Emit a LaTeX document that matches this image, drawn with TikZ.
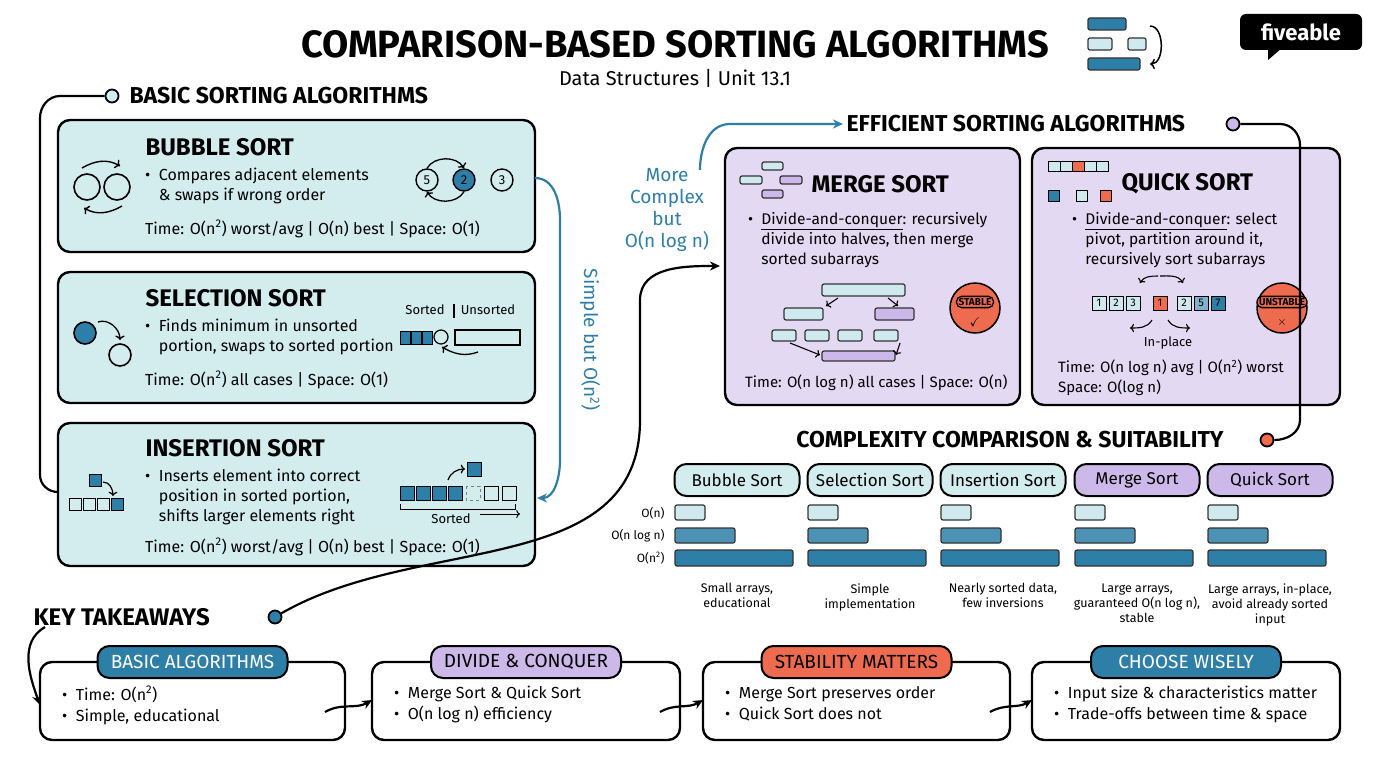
\documentclass[tikz,border=0pt]{standalone}
\usepackage{amssymb}
\usepackage{fontspec}
\setmainfont{Fira Sans}
\usetikzlibrary{arrows.meta}
\definecolor{tealbg}{HTML}{D3ECEE}
\definecolor{deepblue}{HTML}{2E7FA8}
\definecolor{lightcell}{HTML}{CFE9EE}
\definecolor{lilac}{HTML}{E4D9F3}
\definecolor{lilachead}{HTML}{CDB8EA}
\definecolor{coral}{HTML}{EF6B50}
\tikzset{
  card/.style={draw=black, line width=2.4, rounded corners=12},
  pill/.style={draw=black, line width=2, rounded corners=12, minimum height=32, inner sep=4, font=\fontsize{17}{20}\selectfont},
  bar/.style={draw=black!80, line width=1.2, rounded corners=2},
  hd/.style={font=\fontsize{23}{26}\selectfont\bfseries, anchor=west},
  ttl/.style={font=\fontsize{24}{28}\selectfont\bfseries, anchor=west},
  txt/.style={font=\fontsize{16}{20}\selectfont, anchor=north west, align=left, inner sep=0},
  small/.style={font=\fontsize{13}{15}\selectfont, align=center},
  flow/.style={line width=2.2, -{Stealth[length=10,width=9]}},
  dot/.style={circle, draw=black, line width=1.8, minimum size=13, inner sep=0},
  cell/.style={draw=black, line width=1, minimum size=14, inner sep=0, font=\fontsize{11}{12}\selectfont},
  badge/.style={draw, line width=1.3, fill=coral, rounded corners=5, inner sep=2, font=\fontsize{10}{12}\selectfont\bfseries},
}
\begin{document}
\begin{tikzpicture}[x=1pt,y=-1pt]
\useasboundingbox (0,0) rectangle (1376,768);
\fill[white] (0,0) rectangle (1376,768);

% title
\node[font=\fontsize{38}{42}\selectfont\bfseries] (title) at (675,44) {COMPARISON-BASED SORTING ALGORITHMS};
\node[font=\fontsize{20}{24}\selectfont] (sub) at (675,78) {Data Structures | Unit 13.1};
\fill[black, rounded corners=6] (1240,14) rectangle (1362,50);
\fill[black] (1268,48) -- (1268,60) -- (1282,48) -- cycle;
\node[white, font=\fontsize{22}{24}\selectfont\bfseries] (logo) at (1301,32) {fiveable};
\draw[bar, fill=deepblue] (1088,18) rectangle (1126,30);
\draw[bar, fill=lightcell] (1088,38) rectangle (1112,50);
\draw[bar, fill=deepblue] (1088,58) rectangle (1140,70);
\draw[bar, fill=lightcell] (1128,38) rectangle (1146,50);
\draw[line width=1.5, ->] (1150,26) to[out=0,in=0] (1150,64);

% basic sorting
\node[dot, fill=tealbg] (bdot) at (112,96) {};
\node[hd] (bhead) at (126,96) {BASIC SORTING ALGORITHMS};
\draw[card, fill=tealbg] (58,120) rectangle (535,252);
\draw[card, fill=tealbg] (58,272) rectangle (535,403);
\draw[card, fill=tealbg] (58,423) rectangle (535,566);
\coordinate (ins) at (58,492);
\draw[line width=2.2] (bdot) -- (60,96) to[out=180,in=90] (40,118) -- (40,475) to[out=-90,in=180] (ins);

% bubble
\node[ttl] (bub) at (142,147) {BUBBLE SORT};
\node[txt] (bubt) at (145,168) {\textbullet\ \ Compares adjacent elements\\\phantom{\textbullet\ \ }\& swaps if wrong order};
\node[txt] (bubc) at (145,220) {Time: O(n\textsuperscript{2}) worst/avg | O(n) best | Space: O(1)};
\draw[line width=1.6] (87,187) circle (13) (117,187) circle (13);
\draw[line width=1.4, ->] (82,168) to[out=30,in=150] (120,166);
\draw[line width=1.4, ->] (122,206) to[out=-150,in=-30] (84,208);
\node[circle, draw, line width=1.4, minimum size=22, inner sep=0, font=\fontsize{13}{14}\selectfont] (n5) at (427,180) {5};
\node[circle, draw, line width=1.4, fill=deepblue, minimum size=22, inner sep=0, font=\fontsize{13}{14}\selectfont] (n2) at (464,180) {2};
\node[circle, draw, line width=1.4, minimum size=22, inner sep=0, font=\fontsize{13}{14}\selectfont] (n3) at (502,180) {3};
\draw[line width=1.3, ->] (n5.north) to[out=60,in=120] (n2.north);
\draw[line width=1.3, ->] (n2.south) to[out=-120,in=-60] (n5.south);

% selection
\node[ttl] (sel) at (142,298) {SELECTION SORT};
\node[txt] (selt) at (145,319) {\textbullet\ \ Finds minimum in unsorted\\\phantom{\textbullet\ \ }portion, swaps to sorted portion};
\node[txt] (selc) at (145,371) {Time: O(n\textsuperscript{2}) all cases | Space: O(1)};
\draw[line width=1.6, fill=deepblue] (85,333) circle (11);
\draw[line width=1.6] (120,355) circle (11);
\draw[line width=1.3, ->] (98,322) to[out=20,in=90] (120,340);
\node[small] (srt) at (425,310) {Sorted};
\node[small] (uns) at (488,310) {Unsorted};
\foreach \i in {0,1,2} \draw[line width=1, fill=deepblue] (400+\i*11,331) rectangle +(10,13);
\draw[line width=1.2] (441,337) circle (7);
\draw[line width=1.2] (455,330) rectangle (520,345);
\draw[line width=1.2] (454,304) -- (454,318);
\draw[line width=1.3, ->] (478,352) to[out=-160,in=-30] (442,347);

% insertion
\node[ttl] (insr) at (142,448) {INSERTION SORT};
\node[txt] (inst) at (145,469) {\textbullet\ \ Inserts element into correct\\\phantom{\textbullet\ \ }position in sorted portion,\\\phantom{\textbullet\ \ }shifts larger elements right};
\node[txt] (insc) at (145,538) {Time: O(n\textsuperscript{2}) worst/avg | O(n) best | Space: O(1)};
\draw[line width=1, fill=deepblue] (89,474) rectangle +(12,12);
\draw[line width=1.2, ->] (103,482) to[out=0,in=90] (113,496);
\foreach \i in {0,1,2} \draw[line width=1] (69+\i*14,498) rectangle +(12,12);
\draw[line width=1, fill=deepblue] (111,498) rectangle +(12,12);
\foreach \i in {0,...,3} \draw[line width=1, fill=deepblue] (400+\i*16,486) rectangle +(14,14);
\draw[line width=0.8, dashed, draw=gray] (466,486) rectangle +(14,14);
\draw[line width=1] (484,486) rectangle +(14,14) (502,486) rectangle +(14,14);
\draw[line width=1, fill=deepblue] (467,462) rectangle +(14,14);
\draw[line width=1.2, ->] (448,480) to[out=70,in=180] (465,469);
\draw[line width=1] (400,504) -- (400,509) -- (515,509) -- (515,504);
\node[small] (srt2) at (451,519) {Sorted};
\draw[line width=1, ->] (480,514) -- (520,514);

% simple but
\coordinate (bbr) at (535,178);
\coordinate (ibr) at (537,498);
\draw[flow, draw=deepblue] (bbr) to[out=0,in=90] (560,220) -- (560,460) to[out=-90,in=0] (ibr);
\node[deepblue, rotate=-90, font=\fontsize{19}{22}\selectfont] (simple) at (590,340) {Simple but O(n\textsuperscript{2})};

% efficient
\node[hd] (ehead) at (843,124) {EFFICIENT SORTING ALGORITHMS};
\node[dot, fill=lilachead] (edot) at (1233,124) {};
\node[deepblue, align=center, font=\fontsize{19}{22}\selectfont] (more) at (667,210) {More\\Complex\\but\\O(n log n)};
\draw[flow, draw=deepblue] (700,170) to[out=90,in=180] (730,124) -- (ehead.west);
\draw[card, fill=lilac] (725,148) rectangle (1020,405);
\draw[card, fill=lilac] (1032,148) rectangle (1340,405);

% merge
\node[ttl] (mer) at (808,184) {MERGE SORT};
\node[txt, font=\fontsize{15.5}{20}\selectfont] (mert) at (748,212) {\textbullet\ \ \underline{Divide-and-conquer}: recursively\\\phantom{\textbullet\ \ }divide into halves, then merge\\\phantom{\textbullet\ \ }sorted subarrays};
\node[txt, font=\fontsize{15}{20}\selectfont] (merc) at (745,375) {Time: O(n log n) all cases | Space: O(n)};
\draw[bar, fill=lightcell] (762,162) rectangle (783,170);
\draw[bar, fill=lightcell] (740,176) rectangle (762,184);
\draw[bar, fill=lilachead] (780,176) rectangle (802,184);
\draw[bar, fill=lilachead] (762,190) rectangle (783,198);
\draw[bar, fill=lightcell] (822,284) rectangle (905,296);
\draw[bar, fill=lightcell] (784,308) rectangle (823,320);
\draw[bar, fill=lilachead] (875,308) rectangle (914,320);
\foreach \x in {772,805,838,874} \draw[bar, fill=lightcell] (\x,330) rectangle +(24,11);
\draw[bar, fill=lilachead] (822,351) rectangle (895,361);
\draw[line width=1.1, ->] (838,298) -- (826,306);
\draw[line width=1.1, ->] (888,298) -- (898,306);
\draw[line width=1.1, ->] (790,343) -- (820,355);
\draw[line width=1.1, ->] (900,343) -- (896,355);
\fill[coral] (975,308) circle (25);
\draw[line width=1.5] (975,308) circle (25);
\node[badge] (stab) at (975,302) {STABLE};
\node[font=\fontsize{13}{14}\selectfont\bfseries] (chk) at (975,322) {\checkmark};

% quick
\node[ttl] (qui) at (1118,184) {QUICK SORT};
\node[txt, font=\fontsize{15.5}{20}\selectfont] (quit) at (1072,212) {\textbullet\ \ \underline{Divide-and-conquer}: select\\\phantom{\textbullet\ \ }pivot, partition around it,\\\phantom{\textbullet\ \ }recursively sort subarrays};
\node[txt, font=\fontsize{15}{20}\selectfont] (quic) at (1058,360) {Time: O(n log n) avg | O(n\textsuperscript{2}) worst\\Space: O(log n)};
\foreach \i/\c in {0/lightcell,1/lightcell,2/coral,3/lightcell,4/lightcell} \draw[line width=1, fill=\c] (1048+\i*12,161) rectangle +(12,10);
\draw[line width=1, fill=deepblue] (1048,190) rectangle +(11,11);
\draw[line width=1, fill=lightcell] (1076,190) rectangle +(11,11);
\draw[line width=1, fill=coral] (1100,190) rectangle +(11,11);
\foreach \i/\n in {0/1,1/2,2/3} \node[cell, fill=lightcell] (qa\i) at (1099+\i*17,303) {\n};
\node[cell, fill=coral] (qp) at (1160,303) {1};
\foreach \i/\n/\c in {0/2/lightcell,1/5/deepblue!60,2/7/deepblue} \node[cell, fill=\c] (qb\i) at (1184+\i*17,303) {\n};
\draw[line width=1.1, <-] (1140,283) to[out=60,in=180] (1158,276);
\draw[line width=1.1, ->] (1160,276) to[out=0,in=120] (1183,283);
\draw[line width=1.1, ->] (1152,320) to[out=-120,in=0] (1130,328);
\draw[line width=1.1, ->] (1168,320) to[out=-60,in=180] (1190,328);
\node[small] (inpl) at (1168,343) {In-place};
\fill[coral] (1282,308) circle (25);
\draw[line width=1.5] (1282,308) circle (25);
\node[badge] (unst) at (1282,302) {UNSTABLE};
\node[font=\fontsize{13}{14}\selectfont\bfseries] (crs) at (1282,322) {$\times$};

% complexity
\node[font=\fontsize{23}{26}\selectfont\bfseries] (chead) at (1010,440) {COMPLEXITY COMPARISON \& SUITABILITY};
\node[dot, fill=coral] (cdot) at (1267,440) {};
\draw[line width=2.2] (edot) -- (1280,124) to[out=0,in=90] (1300,145) -- (1300,420) to[out=-90,in=0] (cdot);
\node[font=\fontsize{12}{14}\selectfont, anchor=east] (lo) at (668,513) {O(n)};
\node[font=\fontsize{12}{14}\selectfont, anchor=east] (lm) at (668,536) {O(n log n)};
\node[font=\fontsize{12}{14}\selectfont, anchor=east] (lh) at (668,558) {O(n\textsuperscript{2})};
\foreach \x/\n/\c/\d [count=\k] in {737/Bubble Sort/tealbg/{Small arrays,\\educational},
  870/Selection Sort/tealbg/{Simple\\implementation},
  1003/Insertion Sort/tealbg/{Nearly sorted data,\\few inversions},
  1137/Merge Sort/lilachead/{Large arrays,\\guaranteed O(n log n),\\stable},
  1270/Quick Sort/lilachead/{Large arrays, in-place,\\avoid already sorted\\input}} {
  \node[pill, fill=\c, minimum width=125] (p\k) at (\x,480) {\n};
  \draw[bar, fill=lightcell] (\x-62,505) rectangle +(30,15);
  \draw[bar, fill=deepblue!85] (\x-62,528) rectangle +(60,15);
  \draw[bar, fill=deepblue] (\x-62,550) rectangle +(118,16);
  \node[small, anchor=north, font=\fontsize{12.5}{15}\selectfont] (d\k) at (\x,580) {\d};
}

% takeaways
\node[font=\fontsize{24}{28}\selectfont\bfseries, anchor=west] (khead) at (30,617) {KEY TAKEAWAYS};
\node[dot, fill=deepblue] (kdot) at (275,617) {};
\coordinate (mtip) at (720,266);
\draw[flow] (kdot) to[out=30,in=-90] (640,420) -- (640,300) to[out=90,in=180] (mtip);
\foreach \x/\w/\h/\c/\tc/\a/\b [count=\k] in {
  40/305/BASIC ALGORITHMS/deepblue/white/{Time: O(n\textsuperscript{2})}/{Simple, educational},
  372/308/DIVIDE \& CONQUER/lilachead/black/{Merge Sort \& Quick Sort}/{O(n log n) efficiency},
  703/307/STABILITY MATTERS/coral/black/{Merge Sort preserves order}/{Quick Sort does not},
  1032/308/CHOOSE WISELY/deepblue/white/{Input size \& characteristics matter}/{Trade-offs between time \& space}} {
  \draw[card, fill=white] (\x,662) rectangle +(\w,78);
  \node[pill, fill=\c, text=\tc, minimum width=190, font=\fontsize{19}{22}\selectfont] (k\k) at (\x+\w/2,662) {\h};
  \node[txt, font=\fontsize{16}{21}\selectfont] (kt\k) at (\x+22,686) {\textbullet\ \ \a\\\textbullet\ \ \b};
}
\coordinate (b1) at (40,705);
\draw[flow] (khead.west) ++(15,10) to[out=-150,in=110] (b1);
\coordinate (a1) at (325,712); \coordinate (a2) at (372,700);
\coordinate (a3) at (660,712); \coordinate (a4) at (703,700);
\coordinate (a5) at (990,712); \coordinate (a6) at (1032,700);
\draw[flow] (a1) to[out=30,in=-150] (a2);
\draw[flow] (a3) to[out=30,in=-150] (a4);
\draw[flow] (a5) to[out=30,in=-150] (a6);
\end{tikzpicture}
\end{document}
